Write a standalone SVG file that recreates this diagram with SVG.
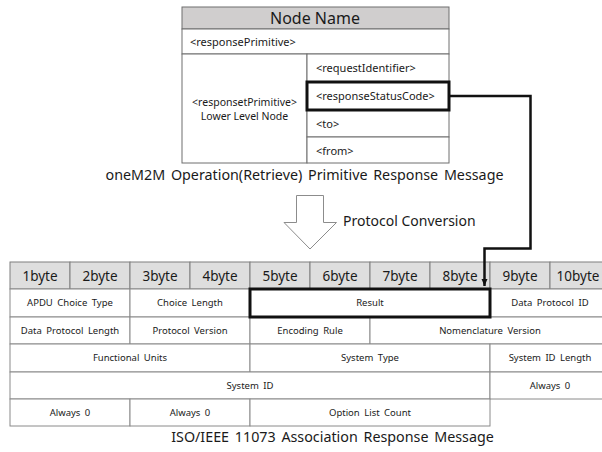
<svg xmlns="http://www.w3.org/2000/svg" width="602" height="452" viewBox="0 0 602 452">
<style>
  text { font-family: "Noto Sans", "Open Sans", sans-serif; fill: #1a1a1a; }
  .cell { fill: #ffffff; stroke: #8a8a8a; stroke-width: 1; }
  .tcell { fill: #ffffff; stroke: #6e6e6e; stroke-width: 1; }
  .hdr { fill: #dedede; stroke: #7f7f7f; stroke-width: 1; }
  .thdr { fill: #d0cece; stroke: #6e6e6e; stroke-width: 1; }
  .thick { fill: none; stroke: #111; stroke-width: 3; }
  .t11 { font-size: 11px; }
  .t10 { font-size: 10.5px; }
  .t9 { font-size: 9.5px; word-spacing: 2px; }
  .bh { font-size: 13.5px; text-anchor: middle; }
  .mid { text-anchor: middle; }
  .cap { font-size: 14.3px; word-spacing: 2px; }
  .conn { fill: none; stroke: #111; stroke-width: 2.5; }
</style>
<defs>
  <marker id="ah" markerWidth="8" markerHeight="8" refX="7" refY="4" orient="auto" markerUnits="userSpaceOnUse">
    <path d="M0,1 L7,4 L0,7 Z" fill="#111"/>
  </marker>
</defs>

<g id="node-top-table">
  <rect class="thdr" x="182" y="7" width="267" height="22"/>
  <text x="315" y="24" class="mid" style="font-size:16px">Node Name</text>
  <rect class="tcell" x="182" y="29" width="267" height="25"/>
  <text x="190" y="46" class="t11">&lt;responsePrimitive&gt;</text>
  <rect class="tcell" x="182" y="54" width="125" height="109"/>
  <text x="244.5" y="106" class="t10 mid">&lt;responsetPrimitive&gt;</text>
  <text x="244.5" y="120" class="t10 mid">Lower Level Node</text>
  <rect class="tcell" x="307" y="54" width="142" height="28"/>
  <text x="316" y="72" class="t11">&lt;requestIdentifier&gt;</text>
  <rect class="tcell" x="307" y="82" width="142" height="28"/>
  <text x="316" y="100" class="t11">&lt;responseStatusCode&gt;</text>
  <rect class="tcell" x="307" y="110" width="142" height="27"/>
  <text x="316" y="128" class="t11">&lt;to&gt;</text>
  <rect class="tcell" x="307" y="137" width="142" height="26"/>
  <text x="316" y="155" class="t11">&lt;from&gt;</text>
  <rect class="thick" x="307" y="82" width="142" height="28"/>
</g>

<g id="caption-top">
  <text x="304.5" y="180" class="cap mid">oneM2M Operation(Retrieve) Primitive Response Message</text>
</g>

<g id="node-conversion-arrow">
  <path d="M296.5,195.5 L323.5,195.5 L323.5,222.5 L336.5,222.5 L310,249 L284,222.5 L296.5,222.5 Z" fill="#fff" stroke="#8c8c8c" stroke-width="1"/>
  <text x="343" y="226" style="font-size:14px">Protocol Conversion</text>
</g>

<g id="node-bottom-table">
  <rect class="hdr" x="10" y="262" width="60" height="27"/>
  <rect class="hdr" x="70" y="262" width="60" height="27"/>
  <rect class="hdr" x="130" y="262" width="60" height="27"/>
  <rect class="hdr" x="190" y="262" width="60" height="27"/>
  <rect class="hdr" x="250" y="262" width="60" height="27"/>
  <rect class="hdr" x="310" y="262" width="60" height="27"/>
  <rect class="hdr" x="370" y="262" width="60" height="27"/>
  <rect class="hdr" x="430" y="262" width="60" height="27"/>
  <rect class="hdr" x="490" y="262" width="60" height="27"/>
  <rect class="hdr" x="550" y="262" width="60" height="27"/>
  <text x="40" y="281" class="bh">1byte</text>
  <text x="100" y="281" class="bh">2byte</text>
  <text x="160" y="281" class="bh">3byte</text>
  <text x="220" y="281" class="bh">4byte</text>
  <text x="280" y="281" class="bh">5byte</text>
  <text x="340" y="281" class="bh">6byte</text>
  <text x="400" y="281" class="bh">7byte</text>
  <text x="460" y="281" class="bh">8byte</text>
  <text x="520" y="281" class="bh">9byte</text>
  <text x="578" y="281" class="bh">10byte</text>

  <rect class="cell" x="10" y="289" width="120" height="28"/>
  <rect class="cell" x="130" y="289" width="120" height="28"/>
  <rect class="cell" x="250" y="289" width="240" height="28"/>
  <rect class="cell" x="490" y="289" width="120" height="28"/>
  <text x="70" y="306" class="t9 mid">APDU Choice Type</text>
  <text x="190" y="306" class="t9 mid">Choice Length</text>
  <text x="370" y="306" class="t9 mid">Result</text>
  <text x="550" y="306" class="t9 mid">Data Protocol ID</text>

  <rect class="cell" x="10" y="317" width="120" height="27"/>
  <rect class="cell" x="130" y="317" width="120" height="27"/>
  <rect class="cell" x="250" y="317" width="120" height="27"/>
  <rect class="cell" x="370" y="317" width="240" height="27"/>
  <text x="70" y="334" class="t9 mid">Data Protocol Length</text>
  <text x="190" y="334" class="t9 mid">Protocol Version</text>
  <text x="310" y="334" class="t9 mid">Encoding Rule</text>
  <text x="490" y="334" class="t9 mid">Nomenclature Version</text>

  <rect class="cell" x="10" y="344" width="240" height="28"/>
  <rect class="cell" x="250" y="344" width="240" height="28"/>
  <rect class="cell" x="490" y="344" width="120" height="28"/>
  <text x="130" y="361" class="t9 mid">Functional Units</text>
  <text x="370" y="361" class="t9 mid">System Type</text>
  <text x="550" y="361" class="t9 mid">System ID Length</text>

  <rect class="cell" x="10" y="372" width="480" height="27"/>
  <rect class="cell" x="490" y="372" width="120" height="27"/>
  <text x="250" y="389" class="t9 mid">System ID</text>
  <text x="550" y="389" class="t9 mid">Always 0</text>

  <rect class="cell" x="10" y="399" width="120" height="27"/>
  <rect class="cell" x="130" y="399" width="120" height="27"/>
  <rect class="cell" x="250" y="399" width="240" height="27"/>
  <text x="70" y="416" class="t9 mid">Always 0</text>
  <text x="190" y="416" class="t9 mid">Always 0</text>
  <text x="370" y="416" class="t9 mid">Option List Count</text>

  <rect class="thick" x="250" y="289" width="240" height="28"/>
</g>

<g id="caption-bottom">
  <text x="332.5" y="442" class="cap mid">ISO/IEEE 11073 Association Response Message</text>
</g>

<g id="connectors">
  <path class="conn" d="M449,96 L530.5,96 L530.5,248.5 L484.5,248.5 L484.5,286" marker-end="url(#ah)"/>
</g>
</svg>
